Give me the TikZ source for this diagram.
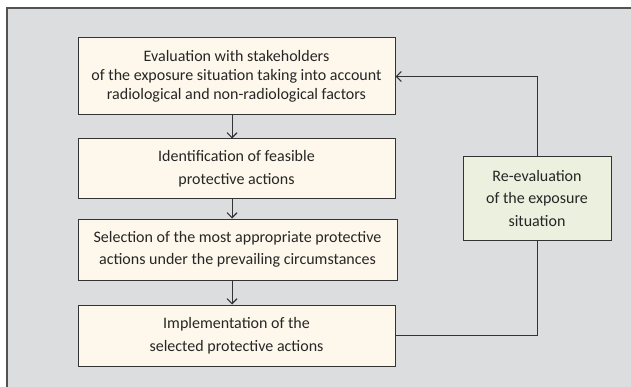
\documentclass[tikz,border=0pt]{standalone}
\usepackage{fontspec}
\setmainfont{Carlito}
\usetikzlibrary{arrows.meta}
\definecolor{bgray}{HTML}{DCDDDF}
\definecolor{cream}{HTML}{FEF8EC}
\definecolor{pgreen}{HTML}{EBF1DE}
\definecolor{edge}{HTML}{333333}
\tikzset{
  box/.style={draw=edge, line width=1pt, fill=cream, align=center, inner sep=0pt,
    font=\fontsize{16}{22.5}\selectfont, text=black!85},
  gbox/.style={box, fill=pgreen},
  link/.style={draw=edge, line width=1pt},
  arr/.style={link, -{Straight Barb[length=5pt,width=10pt,line width=1.1pt]}}
}
\begin{document}
\begin{tikzpicture}[x=1pt,y=1pt]
\useasboundingbox (0,0) rectangle (631,386);
\clip (0,0) rectangle (631,386);
\draw[fill=bgray, draw=edge!85, line width=1.4pt] (7,-10) rectangle (660,378);
\node[box, minimum width=317, minimum height=77, font=\fontsize{16}{19}\selectfont] (b1) at (236.5,309.5)
  {Evaluation with stakeholders\\of the exposure situation taking into account\\radiological and non-radiological factors};
\node[box, minimum width=317, minimum height=59] (b2) at (236.5,217.5)
  {Identification of feasible\\protective actions};
\node[box, minimum width=319, minimum height=61] (b3) at (237.5,136.5)
  {Selection of the most appropriate protective\\actions under the prevailing circumstances};
\node[box, minimum width=317, minimum height=61] (b4) at (236.5,50.5)
  {Implementation of the\\selected protective actions};
\node[gbox, minimum width=148, minimum height=83] (g) at (537,187.5)
  {Re-evaluation\\of the exposure\\situation};
\coordinate (ax) at (232,0);
\draw[arr] (b1.south -| ax) -- (b2.north -| ax);
\draw[arr] (b2.south -| ax) -- (b3.north -| ax);
\draw[arr] (b3.south -| ax) -- (b4.north -| ax);
\draw[link] (b4.east) -| (g.south);
\draw[arr] (g.north) |- (b1.east);
\end{tikzpicture}
\end{document}
